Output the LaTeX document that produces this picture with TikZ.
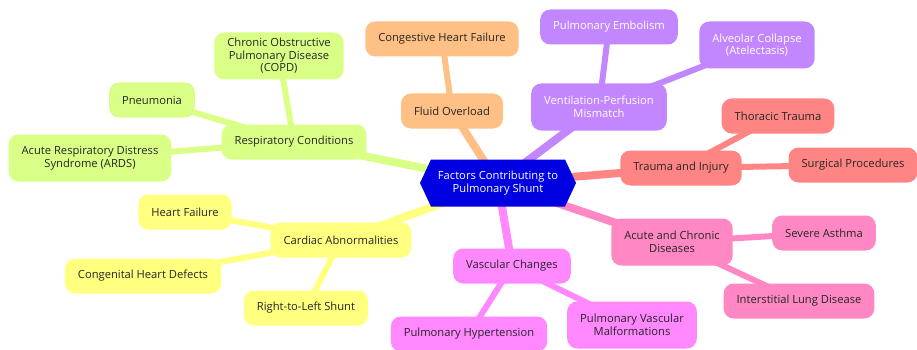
\documentclass[tikz,border=0pt]{standalone}
\usepackage{fontspec}
\setmainfont{Open Sans}
\usepackage{tikz}
\usetikzlibrary{
    shapes.symbols,
    backgrounds
}
\definecolor{RootBlue}{HTML}{0000E0}
\definecolor{RespGreen}{HTML}{D9FF87}
\definecolor{FluidOrange}{HTML}{FFC085}
\definecolor{VQPurple}{HTML}{C286FF}
\definecolor{TraumaRed}{HTML}{FF8585}
\definecolor{DiseasePink}{HTML}{FF88C4}
\definecolor{VascMagenta}{HTML}{FF88FF}
\definecolor{CardYellow}{HTML}{FFFF80}
\tikzset{
    every node/.append style = {
        font=\fontsize{11.2}{12.6}\selectfont
    },
    topic/.style = {
        rectangle,
        rounded corners=10pt,
        inner xsep=13pt,
        inner ysep=2pt,
        minimum height=35pt,
        align=center,
        text=black!85
    },
    topic2/.style = {
        topic,
        minimum height=47pt
    },
    branch/.style = {
        line width=8pt
    },
    twig/.style = {
        line width=6pt
    }
}

\begin{document}
\begin{tikzpicture}[x=1pt, y=-1pt]
        \useasboundingbox (0,0) rectangle (917,350);

        \node[signal, signal to=west and east, signal pointer angle=130,
              fill=RootBlue, text=white, minimum width=156pt, minimum height=47pt,
              inner xsep=2pt, align=center] (root) at (498,183)
              {Factors Contributing to\\Pulmonary Shunt};

        % respiratory
        \node[topic, fill=RespGreen] (resp) at (294,142) {Respiratory Conditions};
        \node[topic2, fill=RespGreen] (copd) at (279,56) {Chronic Obstructive\\Pulmonary Disease\\(COPD)};
        \node[topic, fill=RespGreen] (pneu) at (152,100) {Pneumonia};
        \node[topic2, fill=RespGreen] (ards) at (90,158) {Acute Respiratory Distress\\Syndrome (ARDS)};

        % fluid
        \node[topic, fill=FluidOrange] (fluid) at (452,111) {Fluid Overload};
        \node[topic, fill=FluidOrange] (chf) at (442,39) {Congestive Heart Failure};

        % ventilation-perfusion
        \node[topic2, fill=VQPurple, text=white] (vq) at (599,107) {Ventilation-Perfusion\\Mismatch};
        \node[topic, fill=VQPurple, text=white] (pe) at (609,27) {Pulmonary Embolism};
        \node[topic2, fill=VQPurple, text=white] (atel) at (757,45) {Alveolar Collapse\\(Atelectasis)};

        % trauma
        \node[topic, fill=TraumaRed] (trauma) at (681,168) {Trauma and Injury};
        \node[topic, fill=TraumaRed] (thor) at (778,116) {Thoracic Trauma};
        \node[topic, fill=TraumaRed] (surg) at (853,165) {Surgical Procedures};

        % diseases
        \node[topic2, fill=DiseasePink] (acd) at (672,242) {Acute and Chronic\\Diseases};
        \node[topic, fill=DiseasePink] (asthma) at (824,233) {Severe Asthma};
        \node[topic, fill=DiseasePink] (ild) at (799,301) {Interstitial Lung Disease};

        % vascular
        \node[topic, fill=VascMagenta] (vasc) at (512,266) {Vascular Changes};
        \node[topic2, fill=VascMagenta] (pvm) at (632,325) {Pulmonary Vascular\\Malformations};
        \node[topic, fill=VascMagenta] (ph) at (469,334) {Pulmonary Hypertension};

        % cardiac
        \node[topic, fill=CardYellow] (card) at (341,240) {Cardiac Abnormalities};
        \node[topic, fill=CardYellow] (hf) at (185,212) {Heart Failure};
        \node[topic, fill=CardYellow] (chd) at (143,276) {Congenital Heart Defects};
        \node[topic, fill=CardYellow] (rls) at (306,308) {Right-to-Left Shunt};

        \begin{scope}[on background layer]
            \draw[branch, RespGreen] (root.center) -- (resp.center);
            \draw[twig, RespGreen] (resp.center) -- (copd.center)
                (resp.center) -- (pneu.center)
                (resp.center) -- (ards.center);
            \draw[branch, FluidOrange] (root.center) -- (fluid.center);
            \draw[twig, FluidOrange] (fluid.center) -- (chf.center);
            \draw[branch, VQPurple] (root.center) -- (vq.center);
            \draw[twig, VQPurple] (vq.center) -- (pe.center)
                (vq.center) -- (atel.center);
            \draw[branch, TraumaRed] (root.center) -- (trauma.center);
            \draw[twig, TraumaRed] (trauma.center) -- (thor.center)
                (trauma.center) -- (surg.center);
            \draw[branch, DiseasePink] (root.center) -- (acd.center);
            \draw[twig, DiseasePink] (acd.center) -- (asthma.center)
                (acd.center) -- (ild.center);
            \draw[branch, VascMagenta] (root.center) -- (vasc.center);
            \draw[twig, VascMagenta] (vasc.center) -- (pvm.center)
                (vasc.center) -- (ph.center);
            \draw[branch, CardYellow] (root.center) -- (card.center);
            \draw[twig, CardYellow] (card.center) -- (hf.center)
                (card.center) -- (chd.center)
                (card.center) -- (rls.center);
        \end{scope}
\end{tikzpicture}
\end{document}
